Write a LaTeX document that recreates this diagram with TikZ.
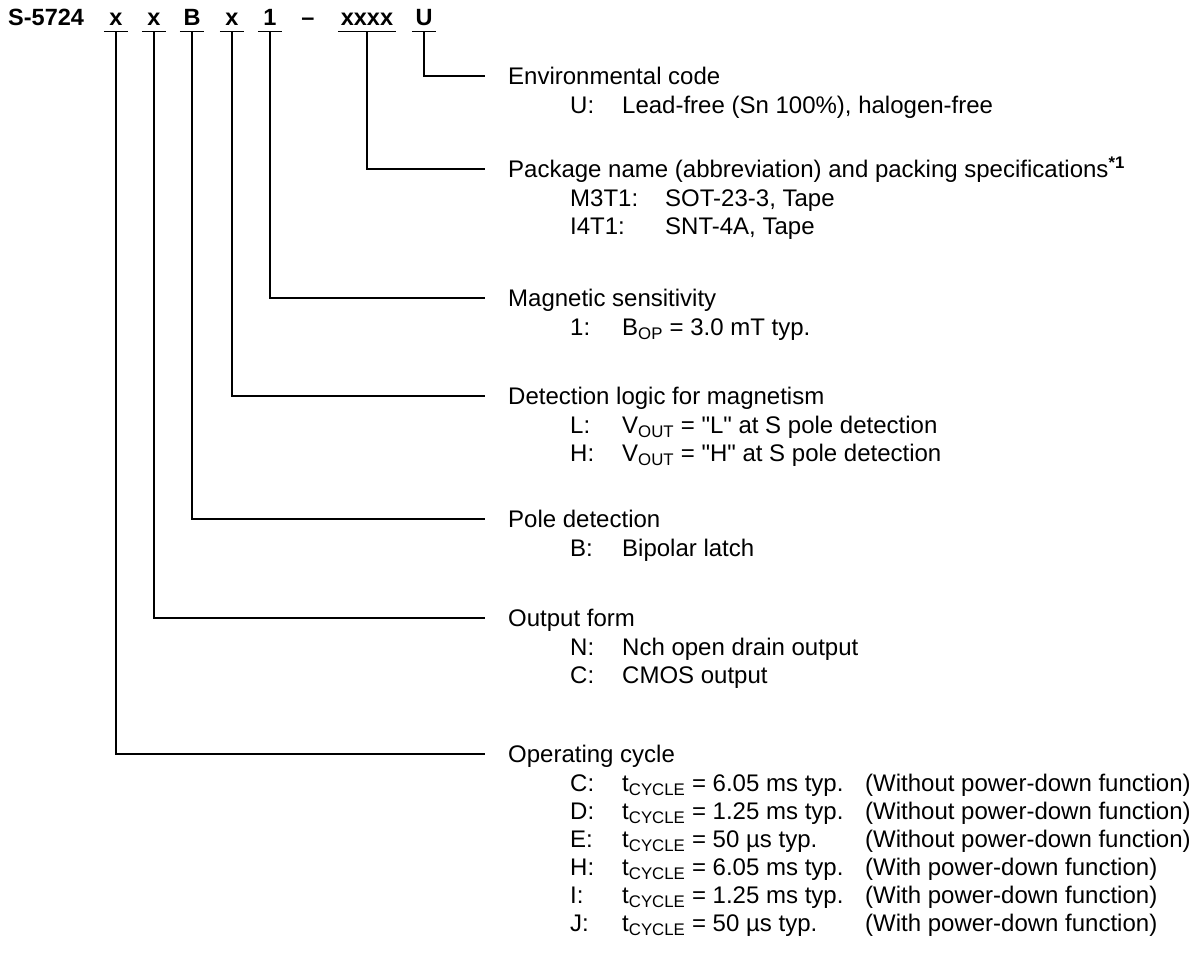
\documentclass[tikz,border=0pt]{standalone}
\usepackage{fontspec}
\setmainfont{Liberation Sans}[Ligatures=TeXOff]
\usetikzlibrary{positioning}
\tikzset{
    code/.style={
        font=\fontsize{23.5}{26}\selectfont\bfseries,
        inner sep=0pt,
        minimum width=24pt,
        text depth=5pt,
        anchor=base
    },
    kopf/.style={
        font=\fontsize{24}{28}\selectfont,
        anchor=west,
        inner xsep=23pt, inner ysep=0pt,
        text height=17.2pt, text depth=0pt
    },
    liste/.style={
        font=\fontsize{24}{28}\selectfont,
        anchor=north west,
        inner sep=0pt
    },
    linie/.style={line width=1.3pt}
}

\begin{document}
\begin{tikzpicture}[x=1pt, y=-1pt]
    \useasboundingbox (0,0) rectangle (1195,955);

    % Typenbezeichnung oben
    \node[code, anchor=base west, minimum width=0pt] (typ) at (8,26) {S-5724};
    \foreach \n/\xpos/\zeichen in {cyc/116/x, form/154/x, pol/192/B, logik/232/x, empf/270/1} {
        \node[code] (\n) at (\xpos,26) {\zeichen};
    }
    \node[code, minimum width=0pt] (strich) at (308,26) {–};
    \node[code, minimum width=58pt] (pkg) at (367,26) {xxxx};
    \node[code] (umw) at (424,26) {U};

    \foreach \n in {cyc, form, pol, logik, empf, pkg, umw} {
        \draw[linie] (\n.south west) -- (\n.south east);
    }

    % Überschriften der einzelnen Stellen
    \node[kopf] (k-umw)   at (485,76)  {Environmental code};
    \node[kopf] (k-pkg)   at (485,169) {Package name (abbreviation) and packing specifications\textsuperscript{\bfseries *1}};
    \node[kopf] (k-empf)  at (485,298) {Magnetic sensitivity};
    \node[kopf] (k-logik) at (485,396) {Detection logic for magnetism};
    \node[kopf] (k-pol)   at (485,519) {Pole detection};
    \node[kopf] (k-form)  at (485,618) {Output form};
    \node[kopf] (k-cyc)   at (485,754) {Operating cycle};

    % Verbindungslinien
    \foreach \n in {cyc, form, pol, logik, empf, pkg, umw} {
        \draw[linie] (\n.south) |- (k-\n.west);
    }

    % Auswahlmöglichkeiten
    \node[liste] (l-umw) at (570,94) {\begin{tabular}{@{}p{52pt}@{}l@{}}
        U: & Lead-free (Sn 100\%), halogen-free
    \end{tabular}};
    \node[liste] (l-pkg) at (570,187) {\begin{tabular}{@{}p{95pt}@{}l@{}}
        M3T1: & SOT-23-3, Tape \\
        I4T1: & SNT-4A, Tape
    \end{tabular}};
    \node[liste] (l-empf) at (570,316) {\begin{tabular}{@{}p{52pt}@{}l@{}}
        1: & B\textsubscript{OP} = 3.0 mT typ.
    \end{tabular}};
    \node[liste] (l-logik) at (570,414) {\begin{tabular}{@{}p{52pt}@{}l@{}}
        L: & V\textsubscript{OUT} = "L" at S pole detection \\
        H: & V\textsubscript{OUT} = "H" at S pole detection
    \end{tabular}};
    \node[liste] (l-pol) at (570,537) {\begin{tabular}{@{}p{52pt}@{}l@{}}
        B: & Bipolar latch
    \end{tabular}};
    \node[liste] (l-form) at (570,636) {\begin{tabular}{@{}p{52pt}@{}l@{}}
        N: & Nch open drain output \\
        C: & CMOS output
    \end{tabular}};
    \node[liste] (l-cyc) at (570,772) {\begin{tabular}{@{}p{52pt}@{}p{243pt}@{}l@{}}
        C: & t\textsubscript{CYCLE} = 6.05 ms typ. & (Without power-down function) \\
        D: & t\textsubscript{CYCLE} = 1.25 ms typ. & (Without power-down function) \\
        E: & t\textsubscript{CYCLE} = 50 µs typ.   & (Without power-down function) \\
        H: & t\textsubscript{CYCLE} = 6.05 ms typ. & (With power-down function) \\
        I: & t\textsubscript{CYCLE} = 1.25 ms typ. & (With power-down function) \\
        J: & t\textsubscript{CYCLE} = 50 µs typ.   & (With power-down function)
    \end{tabular}};

\end{tikzpicture}
\end{document}
